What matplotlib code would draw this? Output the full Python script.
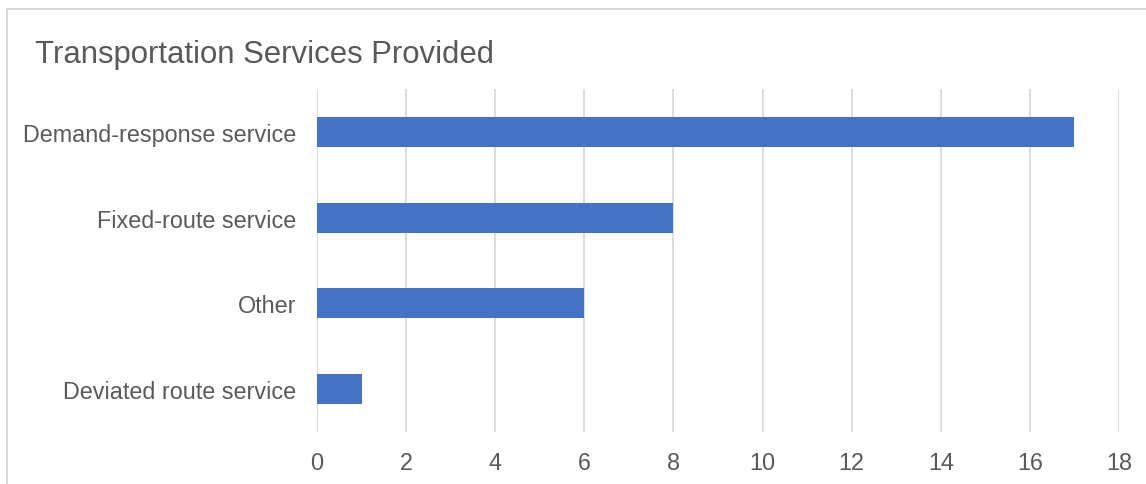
import matplotlib
matplotlib.use("Agg")
import matplotlib.pyplot as plt
from matplotlib.lines import Line2D

categories = ["Demand-response service", "Fixed-route service", "Other", "Deviated route service"]
counts = [17, 8, 6, 1]
x_ticks = [0, 2, 4, 6, 8, 10, 12, 14, 16, 18]
title = "Transportation Services Provided"

W, H = 1146, 485
fig = plt.figure(figsize=(W / 100, H / 100), dpi=100)
plt.rcParams["font.family"] = ["Liberation Sans", "DejaVu Sans"]

text_color = "#595959"
grid_color = "#D9D9D9"
bar_color = "#4472C4"

# chart frame (top and left edges visible)
fig.add_artist(Line2D([7 / W, 7 / W], [0, 1 - 10 / H], transform=fig.transFigure,
                      color="#D9D9D9", lw=1.5))
fig.add_artist(Line2D([7 / W, 1], [1 - 10 / H, 1 - 10 / H], transform=fig.transFigure,
                      color="#D9D9D9", lw=1.5))

left, right = 317, 1119
top, bottom = 90, 433
ax = fig.add_axes([left / W, 1 - bottom / H, (right - left) / W, (bottom - top) / H])

ypos = list(range(len(categories)))
ax.barh(ypos, counts, height=0.35, color=bar_color, zorder=3)
ax.set_ylim(len(categories) - 0.5, -0.5)
ax.set_xlim(0, 18)
ax.set_xticks(x_ticks)
ax.set_xticklabels([str(t) for t in x_ticks])
ax.set_yticks(ypos)
ax.set_yticklabels(categories)

ax.grid(axis="x", color=grid_color, lw=1.3, zorder=0)
for s in ax.spines.values():
    s.set_visible(False)
ax.tick_params(axis="both", length=0, colors=text_color, labelsize=16.8)
ax.tick_params(axis="x", pad=14)
ax.tick_params(axis="y", pad=15)

fig.text(35 / W, 1 - 55 / H, title, fontsize=22.4, color=text_color, va="center", ha="left")

fig.savefig("out.png", dpi=100, facecolor="white")
